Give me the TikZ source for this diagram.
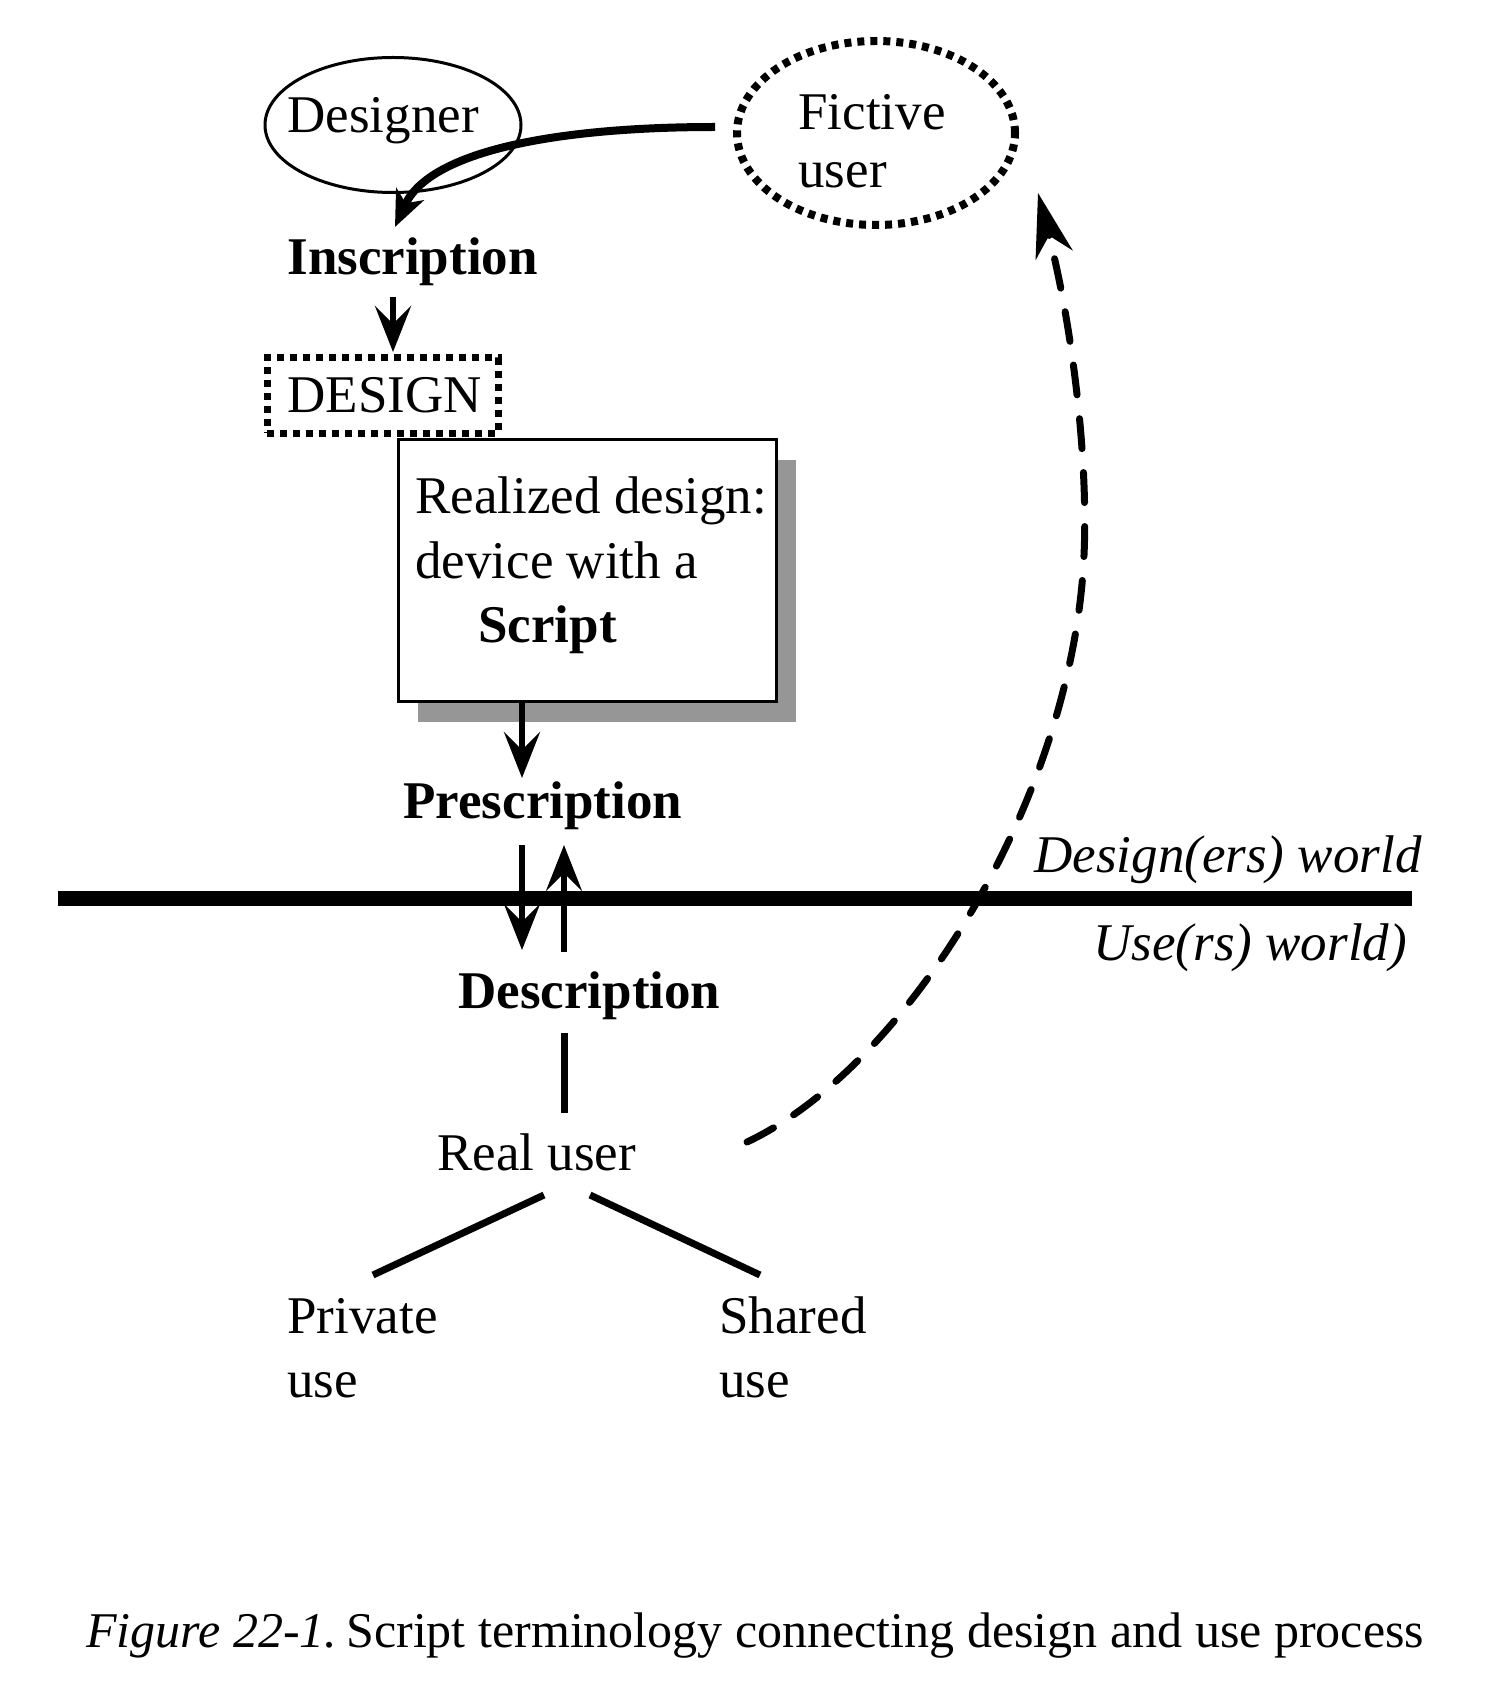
\documentclass[tikz,border=0pt]{standalone}
\usepackage{fontspec}
\setmainfont{Liberation Serif}
\usetikzlibrary{arrows.meta,shapes.geometric,shadows}
\definecolor{shadowgray}{RGB}{150,150,150}
\begin{document}
\begin{tikzpicture}[x=0.5pt,y=-0.5pt,
  lbl/.style={inner sep=0pt, anchor=base west, font=\fontsize{26.5}{30}\selectfont},
  blbl/.style={lbl, font=\fontsize{26.5}{30}\selectfont\bfseries},
  ilbl/.style={lbl, font=\fontsize{26.5}{30}\selectfont\itshape},
  arr/.style={line width=3.25pt, -{Stealth[length=23pt,width=18pt,inset=9pt]}},
  plainline/.style={line width=3.5pt},
  dotbox/.style={draw, line width=3.5pt, dash pattern=on 3.5pt off 3pt},
  dotell/.style={draw, ellipse, line width=4pt, dash pattern=on 3.5pt off 3pt},
]
\useasboundingbox (0,0) rectangle (1486,1690);

% shapes
\node[draw, ellipse, line width=1.5pt, minimum width=128pt, minimum height=67.5pt, inner sep=0pt] (designer) at (393,125) {};
\node[dotell, minimum width=139pt, minimum height=92pt, inner sep=0pt] (fictive) at (876,133) {};
\node[dotbox, minimum width=115.5pt, minimum height=37.5pt, inner sep=0pt] (design) at (382.5,395.5) {};
\node[draw, fill=white, line width=1.5pt, minimum width=189pt, minimum height=131pt, inner sep=0pt,
      drop shadow={shadow xshift=10pt, shadow yshift=-10.5pt, fill=shadowgray, opacity=1}] (realized) at (587,570) {};

% texts
\node[lbl] (designerlbl) at (287,133) {Designer};
\node[lbl] (fictive1) at (798,130) {Fictive};
\node[lbl] (fictive2) at (798,188) {user};
\node[blbl] (inscription) at (287,275) {Inscription};
\node[lbl] (designlbl) at (287,412) {DESIGN};
\node[lbl] (real1) at (415,513) {Realized design:};
\node[lbl] (real2) at (415,578) {device with a};
\node[blbl] (real3) at (478,642) {Script};
\node[blbl] (prescription) at (403,818) {Prescription};
\node[ilbl] (dworld) at (1034,872) {Design(ers) world};
\node[ilbl] (uworld) at (1093,960) {Use(rs) world)};
\node[blbl] (description) at (458,1008) {Description};
\node[lbl] (realuser) at (437,1170) {Real user};
\node[lbl] (private1) at (287,1333) {Private};
\node[lbl] (private2) at (287,1397) {use};
\node[lbl] (shared1) at (719,1333) {Shared};
\node[lbl] (shared2) at (719,1397) {use};
\node[lbl, font=\fontsize{25}{30}\selectfont] (caption) at (86,1647) {\textit{Figure 22-1.}\hspace{-0.15em} Script terminology connecting design and use process};

% connector end points
\coordinate (fstart) at (715,127);
\coordinate (inscrtip) at (395,227);
\coordinate (insA) at (393,297);
\coordinate (insB) at (393,352);
\coordinate (boxA) at (522,703);
\coordinate (boxB) at (522,778);
\coordinate (downA) at (522,845);
\coordinate (downB) at (522,950);
\coordinate (upA) at (564,952);
\coordinate (upB) at (564,845);
\coordinate (descA) at (564,1033);
\coordinate (descB) at (564,1113);
\coordinate (brL0) at (544,1195);
\coordinate (brL1) at (373,1275);
\coordinate (brR0) at (590,1195);
\coordinate (brR1) at (760,1275);
\coordinate (lineL) at (58,898);
\coordinate (lineR) at (1412,898);
\coordinate (ru) at (747,1142);
\coordinate (dmid) at (1082,584);
\coordinate (fu) at (1038,193);

% connectors
\draw[line width=7.5pt] (lineL) -- (lineR);
\draw[line width=4pt, -{Stealth[length=18pt,width=15pt,inset=5pt]}] (fstart) .. controls (560,127) and (430,150) .. (inscrtip);
\draw[arr] (insA) -- (insB);
\draw[arr] (boxA) -- (boxB);
\draw[arr] (downA) -- (downB);
\draw[arr] (upA) -- (upB);
\draw[plainline] (descA) -- (descB);
\draw[plainline] (brL0) -- (brL1);
\draw[plainline] (brR0) -- (brR1);
\draw[line width=3.5pt, line cap=round, dash pattern=on 15pt off 12pt,
      -{Stealth[length=32pt,width=19pt,inset=10pt]}]
  (ru) .. controls (900,1070) and (1060,820) .. (dmid) .. controls (1092,480) and (1073,328) .. (fu);
\end{tikzpicture}
\end{document}
